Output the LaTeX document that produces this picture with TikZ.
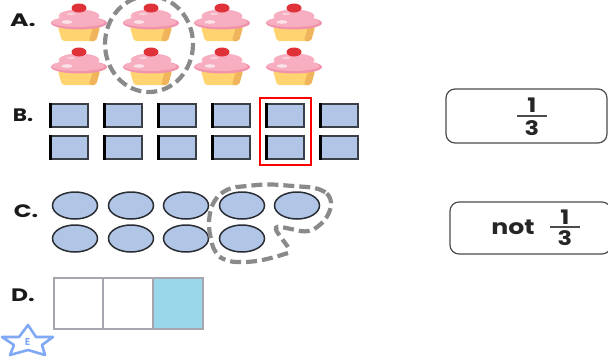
\documentclass[tikz,border=0pt]{standalone}
\usepackage{fontspec}
\setmainfont{Poppins}
\definecolor{blockblue}{HTML}{B1C6E6}
\definecolor{edgegray}{HTML}{3A3F48}
\definecolor{dashgray}{HTML}{8A8A8A}
\definecolor{starblue}{HTML}{7FA8F5}
\definecolor{frameg}{HTML}{A9A5AE}
\definecolor{cyanfill}{HTML}{98D8EA}
\definecolor{cakebase}{HTML}{FFD36F}
\definecolor{cakeshade}{HTML}{EFB45C}
\definecolor{frostdark}{HTML}{F193AB}
\definecolor{frostlight}{HTML}{F6AEC0}
\definecolor{cherry}{HTML}{DF3238}
\newcommand{\widetext}[2]{\scalebox{#1}[1]{#2}}
\tikzset{
  x=1pt,y=-1pt,
  optlabel/.style={font=\fontsize{18}{18}\selectfont\bfseries,inner sep=0pt,text=black!90},
  fracnum/.style={font=\fontsize{20}{20}\selectfont\bfseries,inner sep=0pt,text=black!85},
  nottext/.style={font=\fontsize{21}{21}\selectfont\bfseries,inner sep=0pt,text=black!85},
  block/.style={fill=blockblue,draw=edgegray,line width=1.7pt},
  dot/.style={fill=blockblue,draw=edgegray!70!black,line width=1.5pt},
  lasso/.style={draw=dashgray,line width=4.2pt,dash pattern=on 11pt off 5pt},
  answerbox/.style={draw=black!70,line width=1.2pt,rounded corners=9pt},
  fracbar/.style={draw=black!70,line width=1.2pt},
  cupcake/.pic={
    \fill[rounded corners=2pt,fill=cakebase] (-21,24) -- (21,24) -- (17,38) -- (-17,38) -- cycle;
    \fill[rounded corners=2pt,fill=cakeshade] (14,24) -- (21,24) -- (17,38) -- (10,38) -- cycle;
    \fill[fill=frostdark] (0,20) ellipse [x radius=28,y radius=6.5];
    \fill[fill=frostlight] (-1,19) ellipse [x radius=26.5,y radius=5];
    \fill[fill=frostlight] (0,13) ellipse [x radius=20.5,y radius=6.5];
    \fill[fill=cherry] (0,5) ellipse [x radius=7.5,y radius=4.5];
    \fill[fill=white,opacity=.65] (-12,19) ellipse [x radius=5.5,y radius=1.8];
    \fill[fill=white,opacity=.4] (-8,11) ellipse [x radius=4,y radius=1.3];
  }
}
\begin{document}
\begin{tikzpicture}
\useasboundingbox (0,0) rectangle (608,360);
% labels
\node[optlabel] (la) at (23,20) {\widetext{1.4}{A.}};
\node[optlabel] (lb) at (23,115) {\widetext{1.2}{B.}};
\node[optlabel] (lc) at (26,211) {\widetext{1.3}{C.}};
\node[optlabel] (ld) at (23,295) {\widetext{1.3}{D.}};
% cupcakes
\foreach \cx in {79,151,222,294}{
  \pic at (\cx,3) {cupcake};
  \pic at (\cx,47) {cupcake};
}
\draw[lasso] (149,44) ellipse [x radius=44,y radius=48];
% blocks
\foreach \bx in {50,104,158,212,266,320}{
  \foreach \by in {104,136}{
    \draw[block] (\bx,\by) rectangle +(38,23);
    \fill[black] (\bx-1,\by-1) rectangle +(3.2,25);
  }
}
\draw[red,line width=1.6pt] (260,98) rectangle (311,165);
% circles
\foreach \cx in {75,131,186,242,297}{
  \draw[dot] (\cx,205.5) ellipse [x radius=22.5,y radius=13.5];
}
\foreach \cx in {75,131,186,242}{
  \draw[dot] (\cx,238.5) ellipse [x radius=22.5,y radius=13.5];
}
\draw[lasso,rounded corners=9pt] (288,253) -- (272,258) -- (253,262) -- (227,262) -- (214,253) -- (208,225) -- (212,202) -- (227,188) -- (267,184) -- (320,188) -- (333,198) -- (328,218) -- (310,233) -- (272,225) -- (288,247);
% bar
\fill[white] (54,278) rectangle (203,329);
\fill[cyanfill] (153,278) rectangle (203,329);
\draw[frameg,line width=1.8pt] (54,278) rectangle (203,329);
\draw[frameg,line width=1.8pt] (103,278) -- (103,329);
\draw[frameg,line width=1.8pt] (153,278) -- (153,329);
% star
\draw[starblue,line width=2.6pt,line join=round] (28,325) -- (36,337) -- (53,337) -- (42,345) -- (45,355) -- (28,350) -- (10,355) -- (14,345) -- (2,337) -- (19,337) -- cycle;
\node[font=\fontsize{10}{10}\selectfont\bfseries,text=starblue,inner sep=0pt] (star) at (27.5,342) {E};
% answer boxes
\draw[answerbox] (446,89) rectangle (607,143);
\node[fracnum] (n1) at (532,105) {\widetext{1.2}{1}};
\node[fracnum] (d1) at (532,128) {\widetext{1.2}{3}};
\coordinate (b1l) at (517,116);
\coordinate (b1r) at (547,116);
\draw[fracbar] (b1l) -- (b1r);
\draw[answerbox] (450,202) rectangle (611,254);
\node[nottext] (nt) at (513,227) {\widetext{1.2}{not}};
\node[fracnum] (n2) at (565,217) {\widetext{1.2}{1}};
\node[fracnum] (d2) at (565,238) {\widetext{1.2}{3}};
\coordinate (b2l) at (550,227);
\coordinate (b2r) at (580,227);
\draw[fracbar] (b2l) -- (b2r);
\end{tikzpicture}
\end{document}
